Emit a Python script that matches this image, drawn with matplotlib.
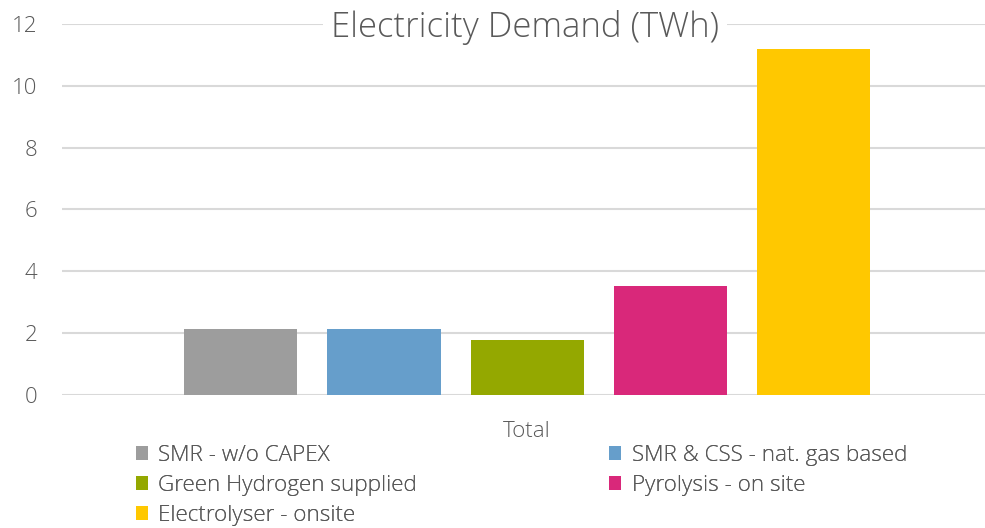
import matplotlib
matplotlib.use("Agg")
import matplotlib.pyplot as plt
from matplotlib.patches import Patch

# data
series = ["SMR - w/o CAPEX", "SMR & CSS - nat. gas based", "Green Hydrogen supplied",
          "Pyrolysis - on site", "Electrolyser - onsite"]
values = [2.13, 2.13, 1.77, 3.52, 11.2]
colors = ["#9d9d9d", "#669ecb", "#94a800", "#d9287a", "#ffc800"]
category = "Total"
yticks = [0, 2, 4, 6, 8, 10, 12]

txt = "#595959"
grid = "#d9d9d9"
plt.rcParams["font.family"] = ["Open Sans", "DejaVu Sans"]

W, H = 985, 528
fig = plt.figure(figsize=(W / 100, H / 100), dpi=100)
ax = fig.add_axes([0.063, 0.252, 0.937, 0.7025])

n = len(values)
xs = [i - (n - 1) / 2 for i in range(n)]
ax.bar(xs, values, width=0.79, color=colors, zorder=3)

ax.set_xlim(-3.25, 3.20)
ax.set_ylim(0, 12)
ax.set_yticks(yticks)
ax.set_xticks([0])
ax.set_xticklabels([category])
ax.yaxis.grid(True, color=grid, linewidth=1.5, zorder=0)
for s in ax.spines.values():
    s.set_visible(False)
ax.tick_params(axis="both", length=0, colors=txt, labelsize=16)
ax.tick_params(axis="y", pad=18)
ax.tick_params(axis="x", pad=19)
for lbl in ax.get_xticklabels() + ax.get_yticklabels():
    lbl.set_fontweight("light")

ax.text(0.5015, 0.99, "Electricity Demand (TWh)", transform=ax.transAxes,
        ha="center", va="center", fontsize=25, color=txt, fontweight="light",
        bbox=dict(facecolor="white", edgecolor="none", pad=6), zorder=5)

# legend is filled row by row, so build one legend per column
handles = [Patch(facecolor=c, edgecolor="none") for c in colors]
cols = [[0, 2, 4], [1, 3]]
col_x = [136, 609]
for idx, x0 in zip(cols, col_x):
    leg = fig.legend([handles[i] for i in idx], [series[i] for i in idx],
                     loc="upper left", bbox_to_anchor=(x0 / W, 1 - 445 / H),
                     frameon=False, fontsize=16.2, handlelength=0.55,
                     handleheight=0.55, handletextpad=0.45,
                     labelspacing=0.4, borderpad=0, borderaxespad=0)
    for t in leg.get_texts():
        t.set_color(txt)
        t.set_fontweight("light")
    fig.add_artist(leg)

fig.savefig("out.png", dpi=100)
